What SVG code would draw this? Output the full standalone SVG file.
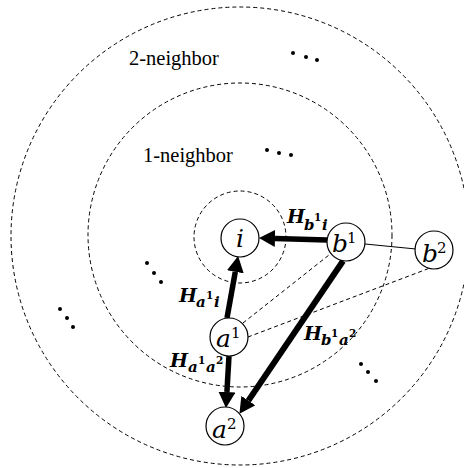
<svg xmlns="http://www.w3.org/2000/svg" width="464" height="468" viewBox="0 0 464 468">
<style>
.ring{fill:none;stroke:#000;stroke-width:1;stroke-dasharray:4 3}
.node{fill:#fff;stroke:#000;stroke-width:1.2}
.thick{stroke:#000;stroke-width:5.5;fill:none}
.thin{stroke:#000;stroke-width:1;fill:none}
.dash{stroke:#000;stroke-width:1;fill:none;stroke-dasharray:4 3}
.lbl{font-family:"DejaVu Serif",serif;font-style:italic;font-size:25px;fill:#000}
.sup{font-style:normal;font-size:15px}
.hl{font-family:"DejaVu Serif",serif;font-style:italic;font-weight:bold;font-size:19px;fill:#000}
.sb{font-size:15px}
.ss{font-size:10.5px;font-style:normal}
.txt{font-family:"Liberation Serif",serif;font-size:20.5px;fill:#000}
.dot{fill:#000}
</style>
<defs>
<marker id="ah" markerUnits="userSpaceOnUse" markerWidth="16" markerHeight="17" viewBox="0 0 16 17" refX="0" refY="8.5" orient="auto">
<path d="M0,0 L16,8.5 L0,17 Z" fill="#000"/>
</marker>
</defs>
<g id="rings">
<circle class="ring" cx="240" cy="236" r="229"/>
<circle class="ring" cx="240" cy="235" r="152"/>
<circle class="ring" cx="240" cy="237" r="46"/>
</g>
<g id="texts">
<text class="txt" x="129" y="65">2-neighbor</text>
<text class="txt" x="143" y="162">1-neighbor</text>
</g>
<g id="dots">
<circle class="dot" cx="293" cy="53" r="2"/><circle class="dot" cx="306" cy="57" r="2"/><circle class="dot" cx="317" cy="60" r="2"/>
<circle class="dot" cx="267" cy="150" r="2"/><circle class="dot" cx="279" cy="153" r="2"/><circle class="dot" cx="291" cy="155" r="2"/>
<circle class="dot" cx="147" cy="263" r="2"/><circle class="dot" cx="154" cy="273" r="2"/><circle class="dot" cx="161" cy="282" r="2"/>
<circle class="dot" cx="60" cy="309" r="2"/><circle class="dot" cx="67" cy="318" r="2"/><circle class="dot" cx="73" cy="327" r="2"/>
<circle class="dot" cx="361" cy="364" r="2"/><circle class="dot" cx="368" cy="372" r="2"/><circle class="dot" cx="376" cy="381" r="2"/>
</g>
<g id="connectors">
<line class="thin" x1="365" y1="244" x2="416" y2="249"/>
<line class="dash" x1="243" y1="323" x2="329" y2="255"/>
<line class="dash" x1="248" y1="337" x2="430" y2="268"/>
<line class="thick" x1="327" y1="240" x2="275" y2="238.4" marker-end="url(#ah)"/>
<line class="thick" x1="227" y1="318" x2="235.3" y2="271.8" marker-end="url(#ah)"/>
<line class="thick" x1="229" y1="356" x2="226.9" y2="392" marker-end="url(#ah)"/>
<line class="thick" style="stroke-width:6" x1="343" y1="261" x2="248.4" y2="400.6" marker-end="url(#ah)"/>
</g>
<g id="node-i">
<circle class="node" cx="240" cy="238" r="19"/>
<text class="lbl" x="240" y="247" text-anchor="middle">i</text>
</g>
<g id="node-b1">
<circle class="node" cx="346" cy="242" r="19"/>
<text class="lbl" x="332" y="252">b<tspan class="sup" x="347" y="243">1</tspan></text>
</g>
<g id="node-b2">
<circle class="node" cx="434" cy="250" r="19"/>
<text class="lbl" x="422" y="262">b<tspan class="sup" x="437" y="253">2</tspan></text>
</g>
<g id="node-a1">
<circle class="node" cx="229" cy="337" r="19"/>
<text class="lbl" x="216" y="347">a<tspan class="sup" x="231" y="338">1</tspan></text>
</g>
<g id="node-a2">
<circle class="node" cx="225" cy="426" r="19"/>
<text class="lbl" x="212" y="438">a<tspan class="sup" x="227" y="429">2</tspan></text>
</g>
<g id="labels">
<text class="hl" x="287" y="223">H<tspan class="sb" x="304" y="230">b</tspan><tspan class="ss" x="314" y="221">1</tspan><tspan class="sb" x="322" y="230">i</tspan></text>
<text class="hl" x="179" y="302">H<tspan class="sb" x="196" y="307">a</tspan><tspan class="ss" x="206" y="299">1</tspan><tspan class="sb" x="214" y="307">i</tspan></text>
<text class="hl" x="170" y="367">H<tspan class="sb" x="188" y="372">a</tspan><tspan class="ss" x="198" y="364">1</tspan><tspan class="sb" x="206" y="372">a</tspan><tspan class="ss" x="216" y="364">2</tspan></text>
<text class="hl" x="304" y="340">H<tspan class="sb" x="321" y="345">b</tspan><tspan class="ss" x="331" y="337">1</tspan><tspan class="sb" x="339" y="345">a</tspan><tspan class="ss" x="349" y="337">2</tspan></text>
</g>
</svg>
